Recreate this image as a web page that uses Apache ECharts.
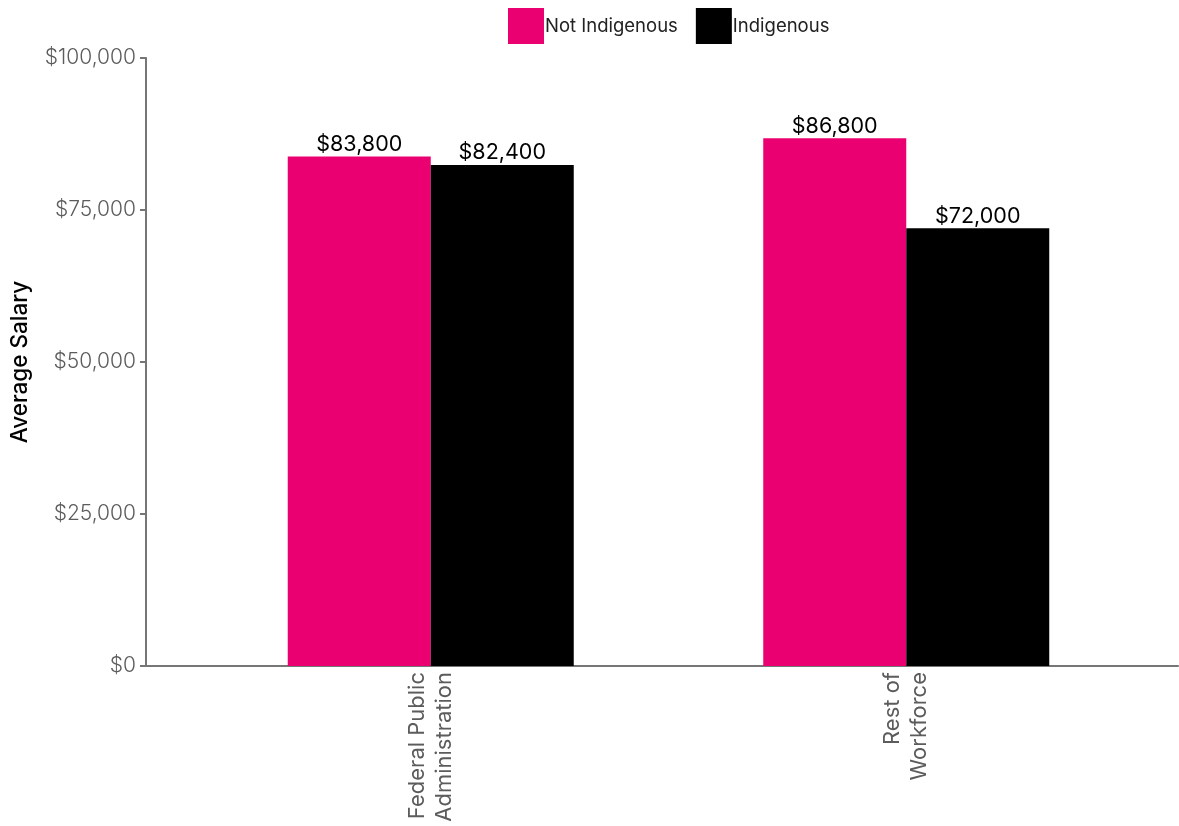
<!DOCTYPE html>
<html>
<head>
<meta charset="utf-8">
<script src="https://cdn.jsdelivr.net/npm/echarts@6/dist/echarts.min.js"></script>
<style>
  html, body { margin: 0; padding: 0; background: #fff; }
  #chart { width: 1179px; height: 826px; }
</style>
</head>
<body>
<div id="chart"></div>
<script>
// Average salary by workforce segment
const categories = ['Federal Public\nAdministration', 'Rest of\nWorkforce'];
const notIndigenous = [83800, 86800];
const indigenous = [82400, 72000];
const seriesNames = ['Not Indigenous', 'Indigenous'];
const yMin = 0, yMax = 100000, yStep = 25000;

const FONT = 'Inter, "Liberation Sans", sans-serif';
const AXIS_GREY = '#767676';
const LABEL_GREY = '#5c5c5c';
const PINK = '#EA0070';

const money = v => '$' + Math.round(v).toLocaleString('en-US');

const chart = echarts.init(document.getElementById('chart'), null, { renderer: 'canvas' });

const barLabel = {
  show: true,
  position: 'top',
  distance: 1,
  color: '#000',
  fontFamily: FONT,
  fontSize: 21.5,
  formatter: p => money(p.value)
};

chart.setOption({
  animation: false,
  backgroundColor: '#fff',
  legend: {
    data: seriesNames,
    left: 508,
    top: 8,
    padding: 0,
    icon: 'rect',
    itemWidth: 36,
    itemHeight: 36,
    itemGap: 18,
    textStyle: { fontFamily: FONT, fontSize: 18.5, color: '#222', padding: [2, 0, 0, -4] }
  },
  grid: [
    // bars
    { left: 193, right: 35, top: 58, bottom: 160 },
    // frame axes spanning the full width
    { left: 146, right: 1, top: 58, bottom: 160 }
  ],
  xAxis: [
    {
      type: 'category',
      gridIndex: 0,
      data: categories,
      axisLine: { show: false },
      axisTick: { show: false },
      axisLabel: {
        rotate: 90,
        margin: 6,
        fontFamily: FONT,
        fontSize: 22,
        lineHeight: 27,
        color: LABEL_GREY,
        align: 'right'
      }
    },
    {
      type: 'value',
      gridIndex: 1,
      min: 0,
      max: 1,
      axisLine: { show: true, lineStyle: { color: AXIS_GREY, width: 2 } },
      axisTick: { show: false },
      axisLabel: { show: false },
      splitLine: { show: false }
    }
  ],
  yAxis: [
    {
      type: 'value',
      gridIndex: 0,
      min: yMin,
      max: yMax,
      interval: yStep,
      show: false
    },
    {
      type: 'value',
      gridIndex: 1,
      min: yMin,
      max: yMax,
      interval: yStep,
      name: 'Average Salary',
      nameLocation: 'middle',
      nameGap: 114,
      nameTextStyle: { fontFamily: FONT, fontSize: 22.5, fontWeight: 500, color: '#000' },
      axisLine: { show: true, lineStyle: { color: AXIS_GREY, width: 2 } },
      axisTick: { show: true, length: 6, lineStyle: { color: AXIS_GREY, width: 2 } },
      axisLabel: {
        margin: 10,
        fontFamily: FONT,
        fontSize: 21,
        fontWeight: 300,
        color: LABEL_GREY,
        formatter: v => money(v)
      },
      splitLine: { show: false }
    }
  ],
  series: [
    {
      name: seriesNames[0],
      type: 'bar',
      xAxisIndex: 0,
      yAxisIndex: 0,
      data: notIndigenous,
      barWidth: 143,
      barGap: '0%',
      itemStyle: { color: PINK },
      label: barLabel
    },
    {
      name: seriesNames[1],
      type: 'bar',
      xAxisIndex: 0,
      yAxisIndex: 0,
      data: indigenous,
      barWidth: 143,
      barGap: '0%',
      itemStyle: { color: '#000' },
      label: barLabel
    }
  ]
});
</script>
</body>
</html>
